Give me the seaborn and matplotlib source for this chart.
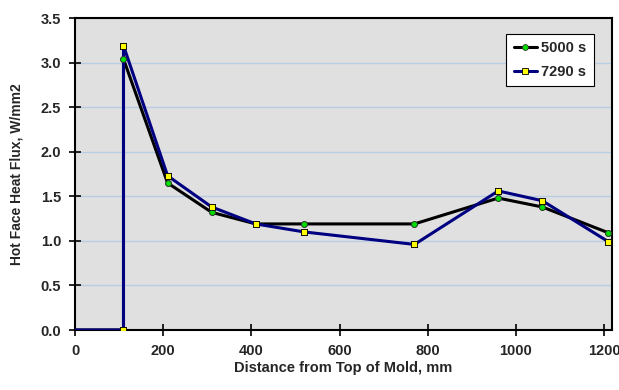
import matplotlib
matplotlib.use("Agg")
import matplotlib.pyplot as plt
import seaborn as sns
import pandas as pd

# Hot face heat flux profiles along the mold
distance_5000 = [0, 110, 110, 210, 310, 410, 520, 770, 960, 1060, 1210]
flux_5000 = [0.0, 0.0, 3.04, 1.65, 1.32, 1.19, 1.19, 1.19, 1.48, 1.38, 1.09]

distance_7290 = [0, 110, 110, 210, 310, 410, 520, 770, 960, 1060, 1210]
flux_7290 = [0.0, 0.0, 3.19, 1.73, 1.38, 1.19, 1.10, 0.96, 1.56, 1.45, 0.99]

series_labels = ["5000 s", "7290 s"]
x_ticks = [0, 200, 400, 600, 800, 1000, 1200]
y_ticks = [0.0, 0.5, 1.0, 1.5, 2.0, 2.5, 3.0, 3.5]

sns.set_theme(style="white")
plt.rcParams["font.family"] = ["Liberation Sans", "DejaVu Sans"]
plt.rcParams["font.weight"] = "bold"

fig = plt.figure(figsize=(6.19, 3.90), dpi=100)
ax = fig.add_axes([75 / 619, 60 / 390, (612 - 75) / 619, (330 - 18) / 390])
ax.set_facecolor("#E0E0E0")

df5 = pd.DataFrame({"x": distance_5000, "y": flux_5000})
df7 = pd.DataFrame({"x": distance_7290, "y": flux_7290})

styles = [
    dict(df=df5, color="black", marker="o", ms=4.2, face="#00DD00", edge="#333333", z=3),
    dict(df=df7, color="#000080", marker="s", ms=4.5, face="#FFFF00", edge="black", z=4),
]

# Lines (markers skipped at the origin)
for st, lab in zip(styles, series_labels):
    n = len(st["df"])
    sns.lineplot(data=st["df"], x="x", y="y", sort=False, estimator=None, errorbar=None,
                 ax=ax, color=st["color"], lw=2.2, marker=st["marker"],
                 markersize=st["ms"], markerfacecolor=st["face"],
                 markeredgecolor=st["edge"], markeredgewidth=0.6,
                 markevery=list(range(1, n)), label=lab, zorder=st["z"])

# Markers drawn above both lines
for st in styles:
    pts = st["df"].iloc[1:]
    sns.scatterplot(data=pts, x="x", y="y", ax=ax, marker=st["marker"],
                    s=st["ms"] ** 2, color=st["face"], edgecolor=st["edge"],
                    linewidth=0.6, legend=False, zorder=st["z"] + 3)

ax.set_xlim(0, 1218)
ax.set_ylim(0, 3.5)
ax.set_xticks(x_ticks)
ax.set_yticks(y_ticks)
ax.set_xticklabels([str(v) for v in x_ticks], fontsize=10.5, fontweight="bold")
ax.set_yticklabels([f"{v:.1f}" for v in y_ticks], fontsize=10.5, fontweight="bold")
ax.yaxis.grid(True, color="#B8CCE4", lw=1)
ax.xaxis.grid(False)
ax.set_axisbelow(True)
for s in ax.spines.values():
    s.set_color("black")
    s.set_linewidth(1.5)
ax.tick_params(axis="both", direction="inout", length=8, width=1.2, color="black",
               bottom=True, left=True, pad=6)

ax.set_xlabel("Distance from Top of Mold, mm", fontsize=10.5, fontweight="bold", labelpad=2)
ax.set_ylabel("Hot Face Heat Flux, W/mm2", fontsize=10, fontweight="bold", labelpad=12)

leg = ax.legend(loc="upper right", bbox_to_anchor=(0.98, 0.972), frameon=True,
                fancybox=False, edgecolor="black", facecolor="white", framealpha=1,
                handlelength=1.6, handletextpad=0.3, borderpad=0.5, labelspacing=0.65,
                prop={"weight": "bold", "size": 10.5})
leg.get_frame().set_linewidth(0.8)

fig.savefig("out.png", dpi=100)
